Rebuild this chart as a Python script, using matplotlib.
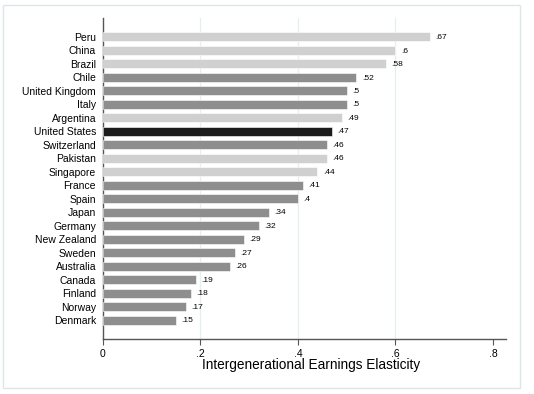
import matplotlib
matplotlib.use('Agg')
import matplotlib.pyplot as plt
from matplotlib.patches import Rectangle

plt.rcParams['font.family'] = ['Liberation Sans', 'DejaVu Sans']

countries = ['Peru', 'China', 'Brazil', 'Chile', 'United Kingdom', 'Italy', 'Argentina',
             'United States', 'Switzerland', 'Pakistan', 'Singapore', 'France', 'Spain',
             'Japan', 'Germany', 'New Zealand', 'Sweden', 'Australia', 'Canada',
             'Finland', 'Norway', 'Denmark']
elasticity = [0.67, 0.6, 0.58, 0.52, 0.5, 0.5, 0.49, 0.47, 0.46, 0.46, 0.44, 0.41, 0.4,
              0.34, 0.32, 0.29, 0.27, 0.26, 0.19, 0.18, 0.17, 0.15]
group = ['light', 'light', 'light', 'mid', 'mid', 'mid', 'light', 'dark', 'mid', 'light',
         'light', 'mid', 'mid', 'mid', 'mid', 'mid', 'mid', 'mid', 'mid', 'mid', 'mid', 'mid']
xticks = [0, 0.2, 0.4, 0.6, 0.8]

colors = {'light': '#d0d0d0', 'mid': '#8e8e8e', 'dark': '#1c1c1c'}

def stata_fmt(v):
    s = ('%.2f' % v).rstrip('0').rstrip('.')
    return s[1:] if s.startswith('0.') else s

fig = plt.figure(figsize=(5.34, 3.94), dpi=100)
fig.patches.append(Rectangle((3 / 534, 1 - 388 / 394), 517 / 534, 383 / 394,
                             transform=fig.transFigure, fill=False,
                             edgecolor='#dde7ea', lw=1.0))
ax = fig.add_axes([103 / 534, 1 - 339 / 394, 403 / 534, 321 / 394])

n = len(countries)
ypos = list(range(n))
ax.barh(ypos, elasticity, height=0.68, color=[colors[g] for g in group],
        edgecolor='white', linewidth=0.4, zorder=3)
for y, v in zip(ypos, elasticity):
    ax.text(v + 0.011, y + 0.05, stata_fmt(v), va='center', ha='left', fontsize=6, zorder=4)

ax.set_ylim(n - 1 + 1.4, -1.4)
ax.set_xlim(0, 0.8267)
ax.set_yticks(ypos)
ax.set_yticklabels(countries, fontsize=7.5)
ax.tick_params(axis='y', length=0, pad=5)
ax.set_xticks(xticks)
ax.set_xticklabels(['0'] + [stata_fmt(t) for t in xticks[1:]], fontsize=7.5)
ax.tick_params(axis='x', length=4, width=0.8, color='#555555', pad=3)

for t in xticks[1:4]:
    ax.axvline(t, color='#e6eef0', lw=0.9, zorder=1)

for s in ['top', 'right']:
    ax.spines[s].set_visible(False)
for s in ['left', 'bottom']:
    ax.spines[s].set_color('#555555')
    ax.spines[s].set_linewidth(1.0)

ax.set_xlabel('Intergenerational Earnings Elasticity', fontsize=9.8)
ax.xaxis.set_label_coords(0.516, -0.08)
ax.xaxis.label.set_va('center')

fig.savefig('out.png', dpi=100)
